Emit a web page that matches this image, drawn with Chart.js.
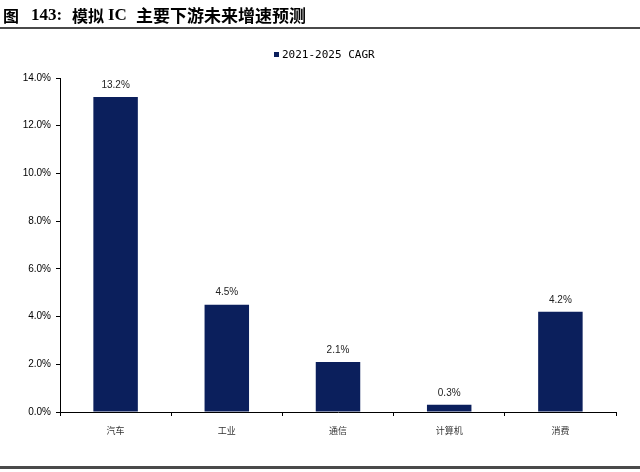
<!DOCTYPE html>
<html>
<head>
<meta charset="utf-8">
<style>
  html, body { margin: 0; padding: 0; background: #fff; }
  #wrap { width: 640px; height: 472px; position: relative; }
</style>
<script src="https://cdn.jsdelivr.net/npm/chart.js@4.4.1/dist/chart.umd.min.js"></script>
</head>
<body>
<div id="wrap"><canvas id="cagrChart" width="640" height="472"></canvas></div>
<script>
const titleParts = ['图', '143:', '模拟', 'IC', '主要下游未来增速预测'];
const seriesLabel = '2021-2025 CAGR';
const categories = ['汽车', '工业', '通信', '计算机', '消费'];
const cagrValues = [13.2, 4.5, 2.1, 0.3, 4.2];
const yMin = 0;
const yMax = 14;
const yStep = 2;

const barColor = '#0b1f5c';
const titleX = [3, 31, 72, 108, 136];

// title, rules, legend and value labels drawn straight on the canvas
const decorPlugin = {
  id: 'decor',
  afterDraw(chart) {
    const ctx = chart.ctx;
    ctx.save();

    ctx.fillStyle = '#000';
    ctx.textBaseline = 'middle';
    ctx.textAlign = 'left';
    titleParts.forEach((part, i) => {
      const latin = /^[0-9A-Z:]+$/.test(part);
      ctx.font = latin
        ? 'bold 17px "Liberation Serif", serif'
        : 'bold 16px "Noto Sans CJK SC", sans-serif';
      if (i === titleParts.length - 1) ctx.font = 'bold 17px "Noto Sans CJK SC", sans-serif';
      ctx.fillText(part, titleX[i], 16);
    });

    ctx.fillStyle = '#4a4a4a';
    ctx.fillRect(0, 27, 640, 2);
    ctx.fillRect(0, 466, 640, 3);

    // legend
    ctx.fillStyle = barColor;
    ctx.fillRect(274, 52, 5, 5);
    ctx.fillStyle = '#000';
    ctx.font = '11px "DejaVu Sans Mono", monospace';
    ctx.fillText(seriesLabel, 282, 55);

    // value labels above the bars
    const meta = chart.getDatasetMeta(0);
    ctx.textAlign = 'center';
    ctx.textBaseline = 'bottom';
    ctx.fillStyle = '#222';
    ctx.font = '10px "Liberation Sans", Arial, sans-serif';
    meta.data.forEach((bar, i) => {
      ctx.fillText(cagrValues[i].toFixed(1) + '%', bar.x, bar.y - 7);
    });

    ctx.restore();
  }
};

new Chart(document.getElementById('cagrChart'), {
  type: 'bar',
  data: {
    labels: categories,
    datasets: [{
      label: seriesLabel,
      data: cagrValues,
      backgroundColor: barColor,
      borderWidth: 0,
      barPercentage: 0.4,
      categoryPercentage: 1.0
    }]
  },
  options: {
    responsive: false,
    animation: false,
    devicePixelRatio: 1,
    layout: {
      padding: { top: 78, right: 24, bottom: 0, left: 0 }
    },
    plugins: {
      legend: { display: false },
      title: { display: false },
      tooltip: { enabled: false }
    },
    scales: {
      x: {
        afterFit(scale) { scale.height = 60; },
        grid: {
          offset: true,
          drawOnChartArea: false,
          drawTicks: true,
          tickLength: 4,
          color: '#000'
        },
        border: { color: '#000', width: 1 },
        ticks: {
          color: '#333',
          padding: 9,
          font: { family: '"Noto Sans CJK SC", sans-serif', size: 9 }
        }
      },
      y: {
        min: yMin,
        max: yMax,
        afterFit(scale) { scale.width = 60; },
        grid: {
          drawOnChartArea: false,
          drawTicks: true,
          tickLength: 4,
          color: '#000'
        },
        border: { color: '#000', width: 1 },
        ticks: {
          stepSize: yStep,
          color: '#000',
          padding: 5,
          font: { family: '"Liberation Sans", Arial, sans-serif', size: 10 },
          callback: (v) => v.toFixed(1) + '%'
        }
      }
    }
  },
  plugins: [decorPlugin]
});
</script>
</body>
</html>
